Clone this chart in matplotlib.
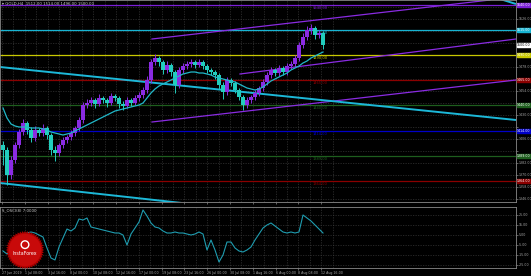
import numpy as np
import matplotlib
matplotlib.use("Agg")
import matplotlib.pyplot as plt
from matplotlib.patches import Circle, Polygon

# --- GOLD H4 candles ---
opens = [1400, 1395, 1370, 1385, 1400, 1413, 1422, 1415, 1407, 1415, 1412, 1417, 1410, 1395, 1392, 1400,
         1405, 1408, 1412, 1417, 1425, 1440, 1442, 1445, 1441, 1447, 1445, 1442, 1449, 1447, 1441, 1439,
         1445, 1442, 1447, 1450, 1455, 1465, 1483, 1487, 1483, 1475, 1480, 1473, 1460, 1475, 1479, 1481,
         1483, 1480, 1483, 1479, 1475, 1473, 1470, 1460, 1453, 1465, 1462, 1455, 1448, 1440, 1445, 1448,
         1452, 1457, 1463, 1470, 1475, 1472, 1477, 1473, 1479, 1481, 1487, 1500, 1508, 1515, 1517, 1510, 1512]
closes = [1395, 1370, 1385, 1400, 1413, 1422, 1415, 1407, 1415, 1412, 1417, 1410, 1395, 1392, 1400, 1405,
          1408, 1412, 1417, 1425, 1440, 1442, 1445, 1441, 1447, 1445, 1442, 1449, 1447, 1441, 1439, 1445,
          1442, 1447, 1450, 1455, 1465, 1483, 1487, 1483, 1475, 1480, 1473, 1460, 1475, 1479, 1481, 1483,
          1480, 1483, 1479, 1475, 1473, 1470, 1460, 1453, 1465, 1462, 1455, 1448, 1440, 1445, 1448, 1452,
          1457, 1463, 1470, 1475, 1472, 1477, 1473, 1479, 1481, 1487, 1500, 1508, 1515, 1517, 1510, 1512, 1500]
highs = [1404, 1398, 1389, 1403, 1416, 1426, 1424, 1418, 1419, 1417, 1421, 1419, 1412, 1399, 1402, 1408,
         1410, 1415, 1419, 1428, 1443, 1446, 1448, 1447, 1451, 1449, 1447, 1452, 1451, 1449, 1444, 1448,
         1447, 1450, 1453, 1458, 1469, 1486, 1491, 1489, 1485, 1484, 1482, 1475, 1478, 1482, 1484, 1486,
         1485, 1486, 1485, 1481, 1477, 1475, 1472, 1463, 1468, 1467, 1464, 1457, 1450, 1448, 1450, 1455,
         1459, 1466, 1473, 1478, 1477, 1480, 1479, 1482, 1484, 1490, 1503, 1512, 1519, 1521, 1519, 1515, 1514]
lows = [1380, 1360, 1366, 1382, 1397, 1410, 1411, 1403, 1404, 1409, 1409, 1406, 1390, 1384, 1389, 1397,
        1402, 1405, 1409, 1414, 1422, 1437, 1439, 1437, 1439, 1442, 1438, 1440, 1444, 1437, 1435, 1437,
        1439, 1440, 1444, 1447, 1452, 1462, 1480, 1479, 1471, 1472, 1469, 1452, 1457, 1472, 1476, 1478,
        1477, 1478, 1476, 1472, 1470, 1466, 1456, 1446, 1450, 1459, 1452, 1445, 1435, 1437, 1442, 1445,
        1449, 1454, 1460, 1467, 1469, 1469, 1470, 1470, 1476, 1478, 1484, 1497, 1505, 1511, 1506, 1507, 1496]
ma = [1437, 1427, 1421, 1419, 1418, 1418, 1418, 1417, 1417, 1417, 1416, 1415, 1413, 1412, 1411, 1410,
      1411, 1412, 1414, 1416, 1418, 1420, 1422, 1424, 1426, 1428, 1430, 1432, 1434, 1435, 1436, 1437,
      1438, 1439, 1440, 1442, 1447, 1452, 1456, 1459, 1461, 1463, 1465, 1467, 1469, 1471, 1472, 1473,
      1473, 1472, 1472, 1471, 1470, 1468, 1467, 1466, 1465, 1464, 1463, 1461, 1459, 1457, 1456, 1455,
      1456, 1458, 1461, 1464, 1466, 1468, 1470, 1472, 1475, 1477, 1479, 1482, 1484, 1487, 1489, 1491, 1493]
osc = [-11, -14, -10, -5, 0, 4, 7, 8, 7, 5, 3, -8, -18, -20, -7, 2,
       11, 9, 12, 21, 20, 22, 13, 12, 11, 10, 9, 8, 7, 7, 5, -5,
       6, 12, 18, 30, 24, 17, 13, 12, 9, 7, 7, 8, 7, 7, 6, 5,
       6, 8, 6, -10, 0, -10, -22, -15, -2, -2, -8, -11, -12, -10, -7, 0,
       6, 12, 15, 17, 14, 11, 8, 7, 8, 7, 8, 25, 22, 19, 15, 11, 7]

# pivot levels and their colours
levels = [1540, 1515, 1490, 1465, 1440, 1414, 1389, 1364]
level_colors = ["#7b1fd6", "#18b4d2", "#c8c800", "#8b0000", "#1e5e1e", "#0000c8", "#1e5e1e", "#8b0000"]

# trend / channel lines: (x0, y0, x1, y1) in bar index / price
cyan_lines = [(-0.75, 1478, 128.25, 1425), (-0.75, 1362, 49.25, 1340), (124.25, 1546, 128.25, 1541)]
purple_lines = [(37.25, 1506, 121.75, 1545), (59.25, 1471, 128.25, 1506), (37.25, 1423, 128.25, 1465)]

date_labels = ["27 Jun 2019", "1 Jul 08:00", "3 Jul 16:00", "8 Jul 00:00", "10 Jul 08:00",
               "12 Jul 16:00", "17 Jul 00:00", "19 Jul 08:00", "23 Jul 16:00", "26 Jul 00:00",
               "30 Jul 08:00", "1 Aug 16:00", "6 Aug 00:00", "8 Aug 08:00", "12 Aug 16:00"]

W, H = 531, 276
BG = "#000000"
GRID = "#3c3c3c"
TXT = "#a8a8a8"
UP = "#8a2be2"
DOWN = "#22cdbd"
FS = 2.3

fig = plt.figure(figsize=(W / 100, H / 100), dpi=100, facecolor=BG)
right = 516 / W
ax = fig.add_axes([0, 1 - 202 / H, right, 202 / H], facecolor=BG)
ax2 = fig.add_axes([0, 1 - 268 / H, right, 61 / H], facecolor=BG, sharex=ax)

n = len(closes)
x = np.arange(n)
tick_pos = [i * 5.7 - 0.25 for i in range(len(date_labels))]

for a in (ax, ax2):
    for s in a.spines.values():
        s.set_color("#8a8a8a")
        s.set_linewidth(0.6)
    a.yaxis.tick_right()
    a.tick_params(axis="y", colors=TXT, labelsize=FS, length=1.2, width=0.4, pad=0.6)
    a.tick_params(axis="x", colors=TXT, labelsize=FS, length=1.5, width=0.4, pad=0.8)
    a.set_xticks(tick_pos)
    a.set_xticks([p + 2.85 for p in tick_pos], minor=True)
    a.tick_params(axis="x", which="minor", length=0)
    a.grid(True, which="both", color=GRID, linestyle=(0, (2, 2)), linewidth=0.45)
    a.set_axisbelow(True)

ax.set_xlim(-0.75, 128.25)
ax.set_ylim(1343, 1545)
yt = np.arange(1346, 1545, 12)
tags = levels + [closes[-1]]
ax.set_yticks(yt)
# like the terminal, hide scale labels that sit under a price tag
ax.set_yticklabels([f"{v:.2f}" if min(abs(v - t) for t in tags) > 5 else "" for v in yt])
ax.tick_params(axis="x", labelbottom=False)

# horizontal pivot levels
for lv, c in zip(levels, level_colors):
    ax.axhline(lv, color=c, linewidth=0.9, zorder=1)
    ax.text(77.5, lv - 1, f"{lv:.2f}", color=c, fontsize=2.6, va="top", ha="left")
    ax.annotate(f"{lv:.2f}", xy=(1.0, lv), xycoords=("axes fraction", "data"),
                xytext=(0.6, 0), textcoords="offset points", va="center", ha="left",
                fontsize=FS, color="white", annotation_clip=False,
                bbox=dict(boxstyle="square,pad=0.1", fc=c, ec=c))

for x0, y0, x1, y1 in purple_lines:
    ax.plot([x0, x1], [y0, y1], color="#8a2be2", linewidth=0.9, zorder=2)
for x0, y0, x1, y1 in cyan_lines:
    ax.plot([x0, x1], [y0, y1], color="#1cb8d8", linewidth=1.4, zorder=2, solid_capstyle="butt")

# candles
cols = [UP if c >= o else DOWN for o, c in zip(opens, closes)]
ax.vlines(x, lows, highs, colors=cols, linewidth=0.7, zorder=3)
bottoms = [min(o, c) for o, c in zip(opens, closes)]
heights = [max(abs(c - o), 0.8) for o, c in zip(opens, closes)]
ax.bar(x, heights, bottom=bottoms, width=0.85, color=cols, linewidth=0, zorder=4)
ax.plot(x, ma, color="#20b8c8", linewidth=0.9, zorder=5)

# current price tag
ax.annotate(f"{closes[-1]:.2f}", xy=(1.0, closes[-1]), xycoords=("axes fraction", "data"),
            xytext=(0.6, 0), textcoords="offset points", va="center", ha="left",
            fontsize=FS, color="black", annotation_clip=False,
            bbox=dict(boxstyle="square,pad=0.1", fc="white", ec="white"))

ax.text(0.004, 0.992, f"\u25be GOLD,H4  {opens[-1]:.2f} {highs[-1]:.2f} {lows[-1]:.2f} {closes[-1]:.2f}",
        transform=ax.transAxes, color="#d0d0d0", fontsize=2.8, va="top", ha="left")

# oscillator panel
ax2.set_ylim(-28, 33)
ax2.set_yticks([-25, -15, -5, 5, 15, 25])
ax2.set_yticklabels(["-25.00", "-15.00", "-5.00", "5.00", "15.00", "25.00"])
ax2.plot(x, osc, color="#1f9db0", linewidth=0.8)
ax2.text(0.004, 0.97, f"S_OSCI(8) {osc[-1]:.4f}", transform=ax2.transAxes,
         color="#d0d0d0", fontsize=2.8, va="top", ha="left")
ax2.set_xticklabels(date_labels, ha="left")

# InstaForex badge
lax = fig.add_axes([4 / W, 1 - 273 / H, 42 / W, 46 / H])
lax.set_xlim(-1.1, 1.1)
lax.set_ylim(-1.1, 1.1)
lax.set_aspect("equal")
lax.axis("off")
ang = np.linspace(0, 2 * np.pi, 97)
rad = np.where(np.arange(97) % 2 == 0, 1.0, 0.9)
lax.add_patch(Polygon(np.c_[rad * np.cos(ang), rad * np.sin(ang)], closed=True, fc="#b00000", ec="none"))
lax.add_patch(Circle((0, 0), 0.85, fc="#c80a0a", ec="none"))
lax.add_patch(Circle((0, 0.28), 0.2, fc="none", ec="white", lw=1.0))
lax.text(0, -0.2, "InstaForex", color="white", fontsize=3.4, ha="center", va="center")

fig.savefig("out.png", dpi=100, facecolor=BG)
